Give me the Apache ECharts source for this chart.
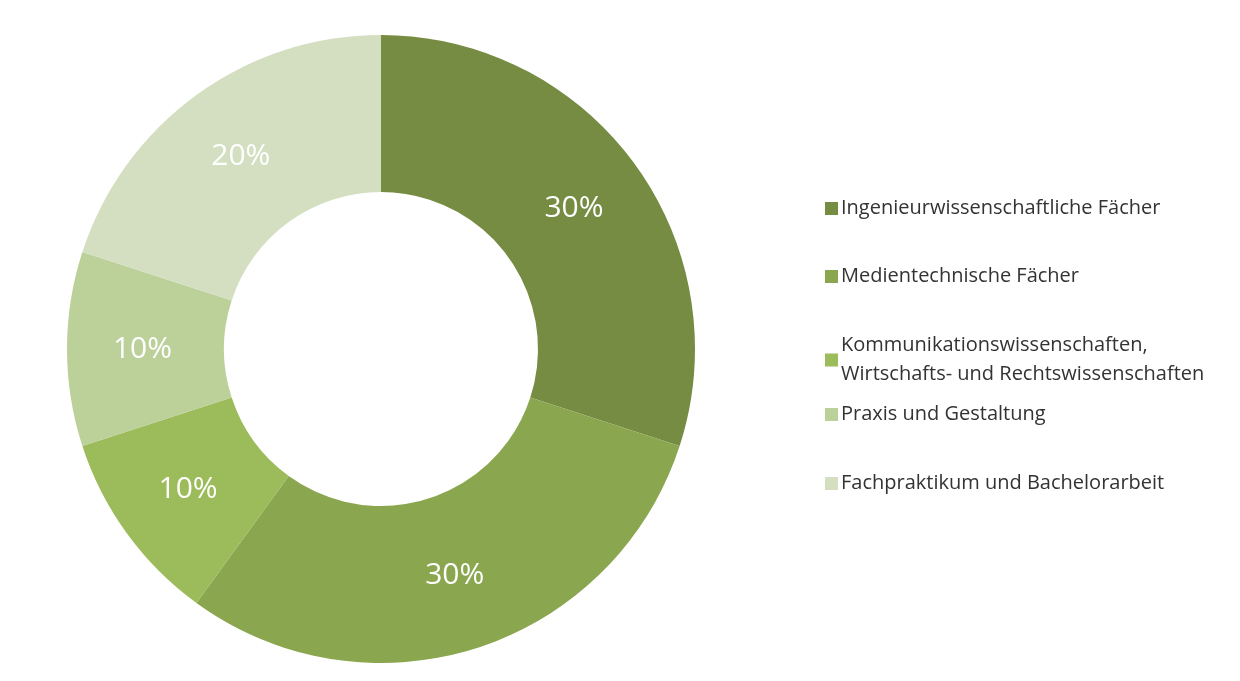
<!DOCTYPE html><html><head><meta charset="utf-8"><script src="https://cdn.jsdelivr.net/npm/echarts@6/dist/echarts.min.js"></script></head><body style="margin:0"><div id="c" style="width:1240px;height:681px"></div><script>
const categories=["Ingenieurwissenschaftliche Fächer","Medientechnische Fächer","Kommunikationswissenschaften, Wirtschafts- und Rechtswissenschaften","Praxis und Gestaltung","Fachpraktikum und Bachelorarbeit"];
const values=[30,30,10,10,20];
const colors=["#758c42","#8aa64f","#9cbb5a","#bcd09a","#d3dfc0"];
const legendTops=[189,257,326,395,464];
const fmt=n=>n.startsWith("Kommunikations")?"Kommunikationswissenschaften,\nWirtschafts- und Rechtswissenschaften":n;
const chart=echarts.init(document.getElementById('c'));
chart.setOption({
 color:colors,
 legend:categories.map((n,i)=>({data:[n],left:820,top:legendTops[i],orient:'vertical',itemWidth:13,itemHeight:13,icon:'rect',formatter:fmt,textStyle:{fontFamily:'Open Sans',fontSize:20,color:'#333',lineHeight:29,padding:[0,0,0,-2]}})),
 series:[{type:'pie',center:[381,349],radius:[157,314],startAngle:90,clockwise:true,label:{position:'inside',formatter:'{c}%',color:'#fff',fontSize:30,fontFamily:'Open Sans'},labelLine:{show:false},emphasis:{disabled:true},itemStyle:{borderWidth:0},
 data:categories.map((n,i)=>({name:n,value:values[i]}))}]
});
</script></body></html>
